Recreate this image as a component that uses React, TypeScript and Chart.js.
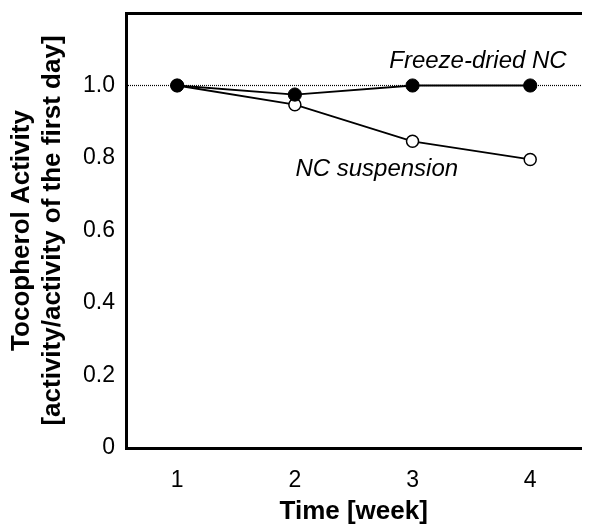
import React, { useEffect, useRef } from "react";
import { Chart, registerables } from "chart.js";

Chart.register(...registerables);

const weeks = [1, 2, 3, 4];
const freezeDried = [1.0, 0.975, 1.0, 1.0];
const suspension = [1.0, 0.947, 0.846, 0.796];
const yTicks = [0, 0.2, 0.4, 0.6, 0.8, 1.0];
const xTicks = [1, 2, 3, 4];
const referenceValue = 1.0;
const X_MIN = 0.565;
const X_MAX = 4.435;
const Y_MIN = 0;
const Y_MAX = 1.2;

const labelFreeze = { text: "Freeze-dried NC", x: 3.556, y: 1.066 };
const labelSusp = { text: "NC suspension", x: 2.696, y: 0.77 };

const FONT = "'Liberation Sans', Arial, sans-serif";

const annotationPlugin = {
  id: "textLabels",
  afterDatasetsDraw(chart: any) {
    const ctx = chart.ctx;
    const xs = chart.scales.x;
    const ys = chart.scales.y;
    ctx.save();
    ctx.fillStyle = "#000";
    ctx.font = `italic 24px ${FONT}`;
    ctx.textAlign = "center";
    ctx.textBaseline = "middle";
    for (const l of [labelFreeze, labelSusp]) {
      ctx.fillText(l.text, xs.getPixelForValue(l.x), ys.getPixelForValue(l.y));
    }
    ctx.restore();
  },
};

const zeroPad = (s: any) => {
  s.paddingTop = 0;
  s.paddingBottom = 0;
  s.paddingLeft = 0;
  s.paddingRight = 0;
};

export default function App() {
  const ref = useRef<HTMLCanvasElement | null>(null);
  useEffect(() => {
    if (!ref.current) return;
    const chart = new Chart(ref.current, {
      type: "line",
      data: {
        datasets: [
          {
            label: "Freeze-dried NC",
            data: weeks.map((w, i) => ({ x: w, y: freezeDried[i] })),
            borderColor: "#000",
            borderWidth: 1.8,
            pointRadius: 6.6,
            pointBackgroundColor: "#000",
            pointBorderColor: "#000",
            pointBorderWidth: 1,
          },
          {
            label: "NC suspension",
            data: weeks.map((w, i) => ({ x: w, y: suspension[i] })),
            borderColor: "#000",
            borderWidth: 1.8,
            pointRadius: 6,
            pointBackgroundColor: "#fff",
            pointBorderColor: "#000",
            pointBorderWidth: 1.5,
          },
          {
            label: "ref",
            data: [
              { x: X_MIN, y: referenceValue },
              { x: X_MAX, y: referenceValue },
            ],
            borderColor: "#000",
            borderWidth: 1.2,
            borderDash: [1, 1],
            pointRadius: 0,
          },
        ],
      },
      options: {
        animation: false,
        responsive: false,
        layout: { padding: { top: 13, right: 0, left: 0, bottom: 0 } },
        plugins: { legend: { display: false }, tooltip: { enabled: false } },
        scales: {
          x: {
            type: "linear",
            min: X_MIN,
            max: X_MAX,
            grid: { display: false, drawTicks: false },
            border: { display: true, color: "#000", width: 3 },
            afterBuildTicks: (s: any) => {
              s.ticks = xTicks.map((v) => ({ value: v }));
            },
            afterFit: (s: any) => {
              s.height = 84;
              zeroPad(s);
            },
            ticks: {
              color: "#000",
              font: { family: FONT, size: 23 },
              padding: 19,
              maxRotation: 0,
              callback: (v: any) => String(v),
            },
            title: {
              display: true,
              text: "Time [week]",
              color: "#000",
              font: { family: FONT, size: 26, weight: "bold", lineHeight: 1.2 },
              padding: { top: 4, bottom: 5 },
            },
          },
          x2: {
            type: "linear",
            position: "top",
            min: X_MIN,
            max: X_MAX,
            grid: { display: false, drawTicks: false },
            border: { display: true, color: "#000", width: 3 },
            ticks: { display: false },
            afterFit: (s: any) => {
              s.height = 0;
              zeroPad(s);
            },
          },
          y: {
            type: "linear",
            min: Y_MIN,
            max: Y_MAX,
            grid: { display: false, drawTicks: false },
            border: { display: true, color: "#000", width: 3 },
            afterBuildTicks: (s: any) => {
              s.ticks = yTicks.map((v) => ({ value: v }));
            },
            afterFit: (s: any) => {
              s.width = 126;
              zeroPad(s);
            },
            ticks: {
              color: "#000",
              font: { family: FONT, size: 23 },
              padding: 11,
              callback: (v: any) => (v === 0 ? "0" : Number(v).toFixed(1)),
            },
            title: {
              display: true,
              text: ["Tocopherol Activity", "[activity/activity of the first day]"],
              color: "#000",
              font: { family: FONT, size: 26, weight: "bold", lineHeight: 1.2 },
              padding: { top: 6, bottom: 6 },
            },
          },
        },
      },
      plugins: [annotationPlugin],
    });
    return () => chart.destroy();
  }, []);
  return (
    <div style={{ position: "absolute", left: 0, top: 0, width: 589, height: 532, background: "#fff" }}>
      <canvas ref={ref} width={589} height={532} />
    </div>
  );
}
